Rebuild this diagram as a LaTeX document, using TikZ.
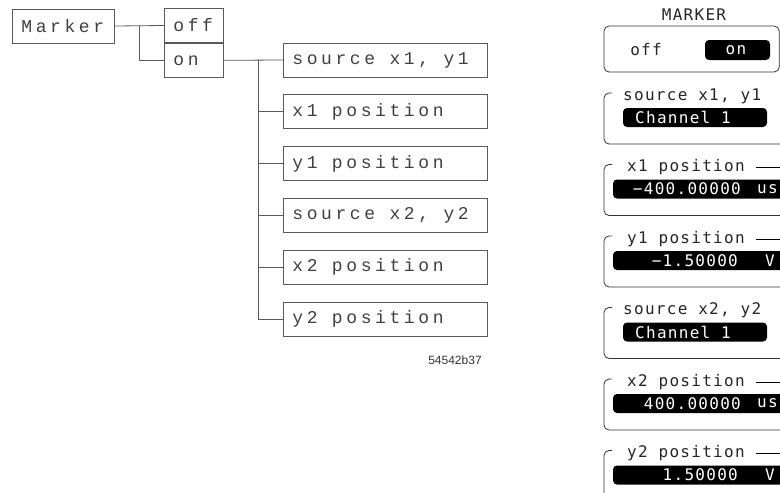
\documentclass[tikz,border=0pt]{standalone}
\usepackage{fontspec}
\usepackage{xcolor}
\usetikzlibrary{positioning}
\setsansfont{Liberation Sans}
\newfontfamily\treefont{Liberation Mono}[LetterSpace=20]
\newfontfamily\panelfont{DejaVu Sans Mono}[LetterSpace=8]
\newcommand\tsp{\hbox to 14.4pt{}}

\tikzset{
  treebox/.style={draw=black!65, line width=0.8pt, text=black!75,
    minimum height=34pt, inner xsep=9pt, inner ysep=0pt, text width=#1,
    align=left, font=\treefont\fontsize{18}{20}\selectfont},
  link/.style={draw=black!65, line width=0.8pt},
  panel/.style={draw=black!80, line width=0.8pt, rounded corners=5pt},
  bar/.style={fill=black, rounded corners=4pt},
  ptext/.style={inner sep=0pt, text=black!85, font=\panelfont\fontsize{16}{18}\selectfont},
  btext/.style={ptext, text=white}
}

\begin{document}
\begin{tikzpicture}[x=1pt,y=-1pt]
\useasboundingbox (0,0) rectangle (780,493);
\clip (0,0) rectangle (780,493);

% menu tree
\node[treebox=84pt, anchor=west] (marker) at (12,26) {Marker};
\node[treebox=41pt, anchor=west] (off) at (164,25.5) {off};
\node[treebox=41pt, below=0pt of off] (on) {on};
\node[treebox=186pt, anchor=west] (src1) at (283,60) {source\tsp x1,\tsp y1};
\node[treebox=186pt, below=17pt of src1] (pos1x) {x1\tsp position};
\node[treebox=186pt, below=17pt of pos1x] (pos1y) {y1\tsp position};
\node[treebox=186pt, below=17pt of pos1y] (src2) {source\tsp x2,\tsp y2};
\node[treebox=186pt, below=17pt of src2] (pos2x) {x2\tsp position};
\node[treebox=186pt, below=17pt of pos2x] (pos2y) {y2\tsp position};

\coordinate (fork1) at (139,26);
\coordinate (fork2) at (258,60);
\draw[link] (marker.east) -- (off.west);
\draw[link] (fork1) |- (on.west);
\draw[link] (on.east) -- (src1.west);
\foreach \n in {pos1x,pos1y,src2,pos2x,pos2y}
  \draw[link] (fork2) |- (\n.west);

\node[font=\sffamily\fontsize{12}{14}\selectfont, text=black!80] (figno) at (455,360) {54542b37};

% front panel
\node[ptext] (mtitle) at (694,15) {MARKER};
\draw[panel] (604,26) rectangle (779.2,72);
\node[ptext] (moff) at (646,50) {off};
\fill[bar] (705,40) rectangle (770,60);
\node[btext] (mon) at (736,50) {on};

% source x1, y1
\draw[panel] (612,93) -- (604,93) -- (604,144) -- (790,144);
\node[ptext, anchor=west] (hd1) at (623,96) {source x1, y1};
\fill[bar] (623,108) rectangle (767,127);
\node[btext, anchor=west] (val1) at (635,117.5) {Channel 1};

% x1 position
\draw[panel] (612,164.5) -- (604,164.5) -- (604,215.5) -- (790,215.5);
\node[ptext, anchor=west] (hd2) at (627,167.5) {x1 position};
\draw[line width=0.8pt] (756,167.5) -- (790,167.5);
\fill[bar] (613,179.5) rectangle (795,198.5);
\node[btext, anchor=east] (val2) at (741,189) {−400.00000};
\node[btext, anchor=west] (unit2) at (757,189) {us};

% y1 position
\draw[panel] (612,236) -- (604,236) -- (604,287) -- (790,287);
\node[ptext, anchor=west] (hd3) at (627,239) {y1 position};
\draw[line width=0.8pt] (756,239) -- (790,239);
\fill[bar] (613,251) rectangle (795,270);
\node[btext, anchor=east] (val3) at (738,260.5) {−1.50000};
\node[btext, anchor=west] (unit3) at (765,260.5) {V};

% source x2, y2
\draw[panel] (612,307.5) -- (604,307.5) -- (604,358.5) -- (790,358.5);
\node[ptext, anchor=west] (hd4) at (623,310.5) {source x2, y2};
\fill[bar] (623,322.5) rectangle (767,341.5);
\node[btext, anchor=west] (val4) at (635,332) {Channel 1};

% x2 position
\draw[panel] (612,379) -- (604,379) -- (604,430) -- (790,430);
\node[ptext, anchor=west] (hd5) at (627,382) {x2 position};
\draw[line width=0.8pt] (756,382) -- (790,382);
\fill[bar] (613,394) rectangle (795,413);
\node[btext, anchor=east] (val5) at (741,403.5) {400.00000};
\node[btext, anchor=west] (unit5) at (757,403.5) {us};

% y2 position
\draw[panel] (612,450.5) -- (604,450.5) -- (604,501.5) -- (790,501.5);
\node[ptext, anchor=west] (hd6) at (627,453.5) {y2 position};
\draw[line width=0.8pt] (756,453.5) -- (790,453.5);
\fill[bar] (613,465.5) rectangle (795,484.5);
\node[btext, anchor=east] (val6) at (738,475) {1.50000};
\node[btext, anchor=west] (unit6) at (765,475) {V};
\end{tikzpicture}
\end{document}
